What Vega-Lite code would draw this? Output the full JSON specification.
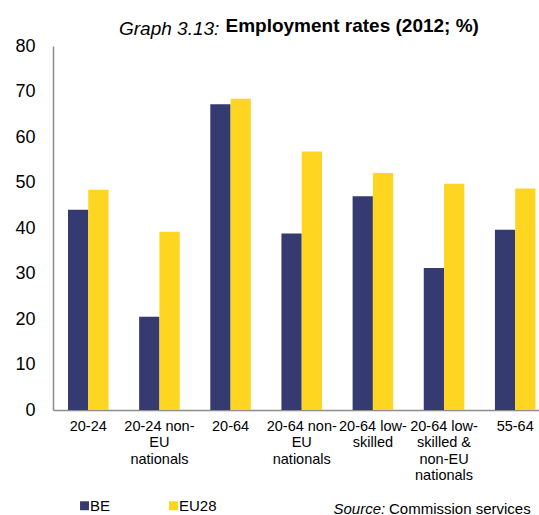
{
  "$schema": "https://vega.github.io/schema/vega-lite/v6.json",
  "width": 486,
  "height": 364,
  "autosize": {"type": "none"},
  "padding": {"left": 53, "top": 46, "right": 0, "bottom": 105},
  "background": "white",
  "title": {
    "text": "Graph 3.13:",
    "font": "Liberation Sans",
    "fontSize": 19,
    "fontStyle": "italic",
    "fontWeight": "normal",
    "color": "black",
    "anchor": "start",
    "frame": "group",
    "baseline": "alphabetic",
    "dx": 66,
    "dy": 38,
    "offset": 0
  },
  "data": {
    "values": [
      {"group": "20-24", "series": "BE", "rate": 44.0},
      {"group": "20-24", "series": "EU28", "rate": 48.4},
      {"group": "20-24 non-EU nationals", "series": "BE", "rate": 20.5},
      {"group": "20-24 non-EU nationals", "series": "EU28", "rate": 39.2},
      {"group": "20-64", "series": "BE", "rate": 67.2},
      {"group": "20-64", "series": "EU28", "rate": 68.4},
      {"group": "20-64 non-EU nationals", "series": "BE", "rate": 38.8},
      {"group": "20-64 non-EU nationals", "series": "EU28", "rate": 56.8},
      {"group": "20-64 low-skilled", "series": "BE", "rate": 47.0},
      {"group": "20-64 low-skilled", "series": "EU28", "rate": 52.1},
      {"group": "20-64 low-skilled & non-EU nationals", "series": "BE", "rate": 31.2},
      {"group": "20-64 low-skilled & non-EU nationals", "series": "EU28", "rate": 49.7},
      {"group": "55-64", "series": "BE", "rate": 39.6},
      {"group": "55-64", "series": "EU28", "rate": 48.7}
    ]
  },
  "mark": {"type": "bar"},
  "encoding": {
    "x": {
      "field": "group",
      "type": "nominal",
      "sort": null,
      "scale": {"paddingInner": 0.43, "paddingOuter": 0.13, "align": 0.81},
      "axis": {
        "title": "Source:",
        "titleFont": "Liberation Sans",
        "titleFontSize": 15,
        "titleFontStyle": "italic",
        "titleFontWeight": "normal",
        "titleColor": "black",
        "titleAngle": 0,
        "titleAlign": "left",
        "titleBaseline": "alphabetic",
        "titleAnchor": null,
        "titleX": 280,
        "titleY": 103,
        "labelExpr": "datum.value == '20-24 non-EU nationals' ? ['20-24 non-', 'EU', 'nationals'] : datum.value == '20-64 non-EU nationals' ? ['20-64 non-', 'EU', 'nationals'] : datum.value == '20-64 low-skilled' ? ['20-64 low-', 'skilled'] : datum.value == '20-64 low-skilled & non-EU nationals' ? ['20-64 low-', 'skilled &', 'non-EU', 'nationals'] : datum.label",
        "labelAngle": 0,
        "labelFont": "Liberation Sans",
        "labelFontSize": 14.5,
        "labelLineHeight": 16.5,
        "labelColor": "black",
        "labelBaseline": "top",
        "labelPadding": 9,
        "labelOverlap": false,
        "labelBound": false,
        "labelFlush": false,
        "labelLimit": 0,
        "ticks": false,
        "domainColor": "#8c8c8c",
        "domainWidth": 1.5
      }
    },
    "xOffset": {"field": "series", "type": "nominal", "sort": ["BE", "EU28"]},
    "y": {
      "field": "rate",
      "type": "quantitative",
      "scale": {"domain": [0, 80], "nice": false},
      "axis": {
        "title": "Employment rates (2012; %)",
        "titleFont": "Liberation Sans",
        "titleFontSize": 19,
        "titleFontWeight": "bold",
        "titleColor": "black",
        "titleAngle": 0,
        "titleAlign": "left",
        "titleBaseline": "alphabetic",
        "titleAnchor": null,
        "titleX": 172,
        "titleY": -15,
        "values": [0, 10, 20, 30, 40, 50, 60, 70, 80],
        "grid": false,
        "ticks": false,
        "labelFont": "Liberation Sans",
        "labelFontSize": 18,
        "labelColor": "black",
        "labelPadding": 18,
        "domainColor": "#8c8c8c",
        "domainWidth": 1.5
      }
    },
    "color": {
      "field": "series",
      "type": "nominal",
      "scale": {"domain": ["BE", "EU28"], "range": ["#353B71", "#FED520"]},
      "legend": {
        "title": "Commission services",
        "titleOrient": "right",
        "titleAnchor": "end",
        "titleBaseline": "alphabetic",
        "titlePadding": 172,
        "titleFont": "Liberation Sans",
        "titleFontSize": 15,
        "titleFontWeight": "normal",
        "titleColor": "black",
        "orient": "none",
        "legendX": 24,
        "legendY": 452,
        "padding": 0,
        "direction": "horizontal",
        "symbolType": "square",
        "symbolSize": 80,
        "symbolStrokeWidth": 0,
        "labelFont": "Liberation Sans",
        "labelFontSize": 15,
        "labelColor": "black",
        "labelOffset": -2,
        "columnPadding": 55
      }
    }
  },
  "config": {"view": {"stroke": null}}
}
